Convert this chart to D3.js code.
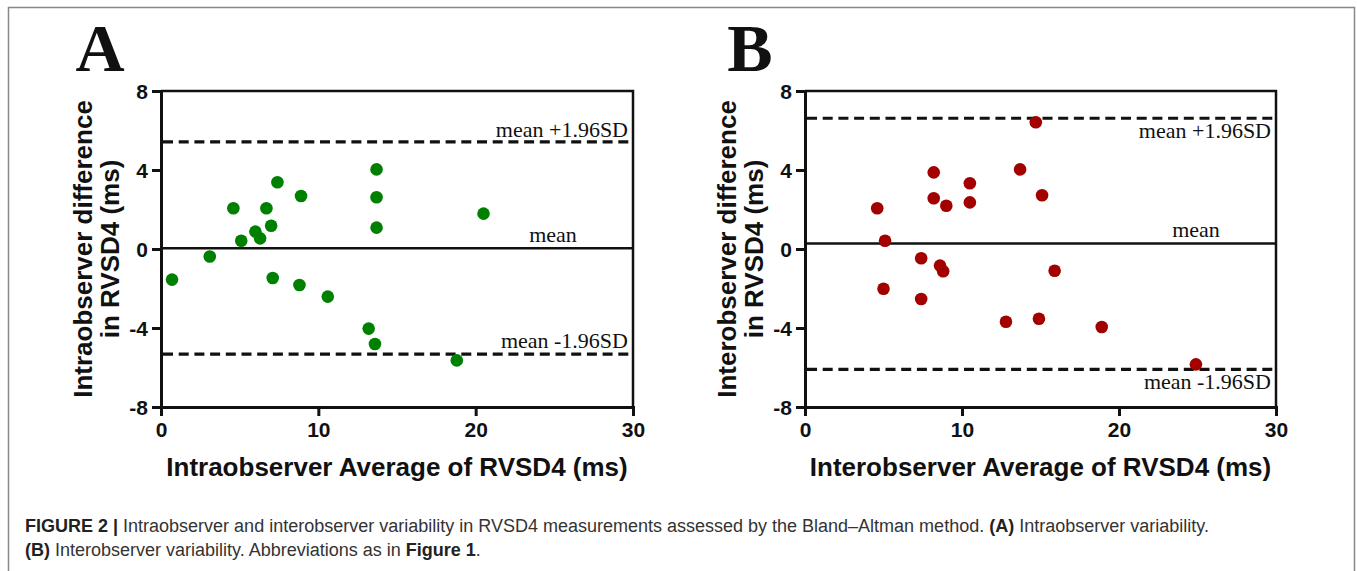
<!DOCTYPE html>
<html lang="en">
<head>
<meta charset="UTF-8">
<title>Bland-Altman RVSD4</title>
<script src="https://d3js.org/d3.v7.min.js"></script>
<style>
    body { margin: 0; background: #fff; }
    .tick-label { font-family: "Liberation Sans", Arial, sans-serif; font-weight: bold; font-size: 21px; fill: #111; }
    .axis-title { font-family: "Liberation Sans", Arial, sans-serif; font-weight: bold; font-size: 26px; fill: #111; }
    .ref-label { font-family: "Liberation Serif", "Times New Roman", serif; font-size: 22px; fill: #111; }
    .panel-letter { font-family: "Liberation Serif", "Times New Roman", serif; font-weight: bold; font-size: 68px; fill: #111; }
    .caption { font-family: "Liberation Sans", Arial, sans-serif; font-size: 18px; fill: #333; }
</style>
</head>
<body>
<div id="chart"></div>
<script>
// panel A: intraobserver
var intraAvg  = [0.7, 3.1, 4.6, 5.1, 6.0, 6.3, 6.7, 7.0, 7.4, 8.9, 13.7, 13.7, 13.7, 20.5, 7.1, 8.8, 10.6, 13.2, 13.6, 18.8];
var intraDiff = [-1.55, -0.38, 2.06, 0.42, 0.88, 0.54, 2.06, 1.18, 3.38, 2.68, 4.03, 2.62, 1.08, 1.79, -1.47, -1.82, -2.41, -4.03, -4.81, -5.64];
var intraLimits = { mean: 0.04, upper: 5.42, lower: -5.32 };

// panel B: interobserver
var interAvg  = [4.6, 5.1, 8.2, 8.2, 9.0, 10.5, 10.5, 13.7, 14.7, 15.1, 7.4, 8.6, 8.8, 5.0, 7.4, 12.8, 14.9, 15.9, 18.9, 24.9];
var interDiff = [2.06, 0.42, 3.88, 2.57, 2.19, 3.33, 2.36, 4.03, 6.42, 2.72, -0.47, -0.84, -1.13, -2.01, -2.53, -3.68, -3.53, -1.10, -3.95, -5.84];
var interLimits = { mean: 0.28, upper: 6.62, lower: -6.09 };

var xTicks = [0, 10, 20, 30];
var yTicks = [-8, -4, 0, 4, 8];

var W = 1357, H = 571;
var svg = d3.select("#chart").append("svg")
    .attr("width", W)
    .attr("height", H);

// outer frame
svg.append("rect")
    .attr("x", 8.5).attr("y", 7.5)
    .attr("width", 1346).attr("height", 580)
    .attr("fill", "none")
    .attr("stroke", "#888")
    .attr("stroke-width", 1.5);

function plainNum(d) { return String(d); } // hyphen minus, as in the figure

function drawPanel(cfg) {
    var x = d3.scaleLinear().domain([0, 30]).range([cfg.left, cfg.right]);
    var y = d3.scaleLinear().domain([-8, 8]).range([407, 91]);
    var g = svg.append("g");

    // frame top/right
    g.append("path")
        .attr("d", "M" + x(0) + "," + y(8) + "H" + x(30) + "V" + y(-8))
        .attr("fill", "none").attr("stroke", "#111").attr("stroke-width", 2.5);

    // axes
    var xAxis = g.append("g")
        .attr("transform", "translate(0," + y(-8) + ")")
        .call(d3.axisBottom(x).tickValues(xTicks).tickSize(9).tickPadding(6).tickFormat(plainNum));
    var yAxis = g.append("g")
        .attr("transform", "translate(" + x(0) + ",0)")
        .call(d3.axisLeft(y).tickValues(yTicks).tickSize(9).tickPadding(4).tickFormat(plainNum));
    [xAxis, yAxis].forEach(function (a) {
        a.select(".domain").attr("stroke", "#111").attr("stroke-width", 3);
        a.selectAll(".tick line").attr("stroke", "#111").attr("stroke-width", 3);
        a.selectAll(".tick text").attr("class", "tick-label").attr("fill", null);
        a.attr("font-size", null).attr("font-family", null);
    });
    yAxis.selectAll(".tick text").attr("dy", "0.36em");

    // mean and limits
    g.append("line")
        .attr("x1", x(0)).attr("x2", x(30))
        .attr("y1", y(cfg.limits.mean)).attr("y2", y(cfg.limits.mean))
        .attr("stroke", "#111").attr("stroke-width", 2.5);
    [cfg.limits.upper, cfg.limits.lower].forEach(function (v) {
        g.append("line")
            .attr("x1", x(0) + 2).attr("x2", x(30) - 2)
            .attr("y1", y(v)).attr("y2", y(v))
            .attr("stroke", "#111").attr("stroke-width", 3.2)
            .attr("stroke-dasharray", "10,5.7");
    });

    // points
    g.selectAll("circle.pt")
        .data(cfg.avg.map(function (d, i) { return [d, cfg.diff[i]]; }))
        .enter().append("circle")
        .attr("class", "pt")
        .attr("cx", function (d) { return x(d[0]); })
        .attr("cy", function (d) { return y(d[1]); })
        .attr("r", 6.3)
        .attr("fill", cfg.color);

    // reference labels
    var rx = x(30) - 5;
    g.append("text").attr("class", "ref-label")
        .attr("x", rx).attr("y", y(cfg.limits.upper) + cfg.upperDy)
        .attr("text-anchor", "end").text("mean +1.96SD");
    g.append("text").attr("class", "ref-label")
        .attr("x", x(30) - 80).attr("y", y(cfg.limits.mean) - 6)
        .attr("text-anchor", "middle").text("mean");
    g.append("text").attr("class", "ref-label")
        .attr("x", rx).attr("y", y(cfg.limits.lower) + cfg.lowerDy)
        .attr("text-anchor", "end").text("mean -1.96SD");

    // axis titles
    var cy = (y(8) + y(-8)) / 2;
    g.append("text").attr("class", "axis-title")
        .attr("transform", "translate(" + (cfg.left - 69) + "," + cy + ") rotate(-90)")
        .attr("text-anchor", "middle").text(cfg.yTitle1);
    g.append("text").attr("class", "axis-title")
        .attr("transform", "translate(" + (cfg.left - 42) + "," + cy + ") rotate(-90)")
        .attr("text-anchor", "middle").text(cfg.yTitle2);
    g.append("text").attr("class", "axis-title")
        .attr("x", (x(0) + x(30)) / 2).attr("y", 476)
        .attr("text-anchor", "middle").text(cfg.xTitle);

    g.append("text").attr("class", "panel-letter")
        .attr("x", cfg.letterX).attr("y", 71)
        .attr("text-anchor", "middle").text(cfg.letter);
}

drawPanel({
    left: 161, right: 633, avg: intraAvg, diff: intraDiff, limits: intraLimits,
    color: "#008000", upperDy: -5, lowerDy: -6,
    yTitle1: "Intraobserver difference", yTitle2: "in RVSD4 (ms)",
    xTitle: "Intraobserver Average of RVSD4 (ms)", letter: "A", letterX: 100
});
drawPanel({
    left: 805, right: 1276, avg: interAvg, diff: interDiff, limits: interLimits,
    color: "#a30000", upperDy: 20, lowerDy: 20,
    yTitle1: "Interobserver difference", yTitle2: "in RVSD4 (ms)",
    xTitle: "Interobserver Average of RVSD4 (ms)", letter: "B", letterX: 750
});

// caption
var cap1 = svg.append("text").attr("class", "caption").attr("x", 25).attr("y", 532);
cap1.append("tspan").attr("font-weight", "bold").attr("fill", "#222").text("FIGURE 2 | ");
cap1.append("tspan").text("Intraobserver and interobserver variability in RVSD4 measurements assessed by the Bland\u2013Altman method. ");
cap1.append("tspan").attr("font-weight", "bold").attr("fill", "#222").text("(A)");
cap1.append("tspan").text(" Intraobserver variability.");

var cap2 = svg.append("text").attr("class", "caption").attr("x", 25).attr("y", 556);
cap2.append("tspan").attr("font-weight", "bold").attr("fill", "#222").text("(B)");
cap2.append("tspan").text(" Interobserver variability. Abbreviations as in ");
cap2.append("tspan").attr("font-weight", "bold").attr("fill", "#222").text("Figure 1");
cap2.append("tspan").text(".");
</script>
</body>
</html>
